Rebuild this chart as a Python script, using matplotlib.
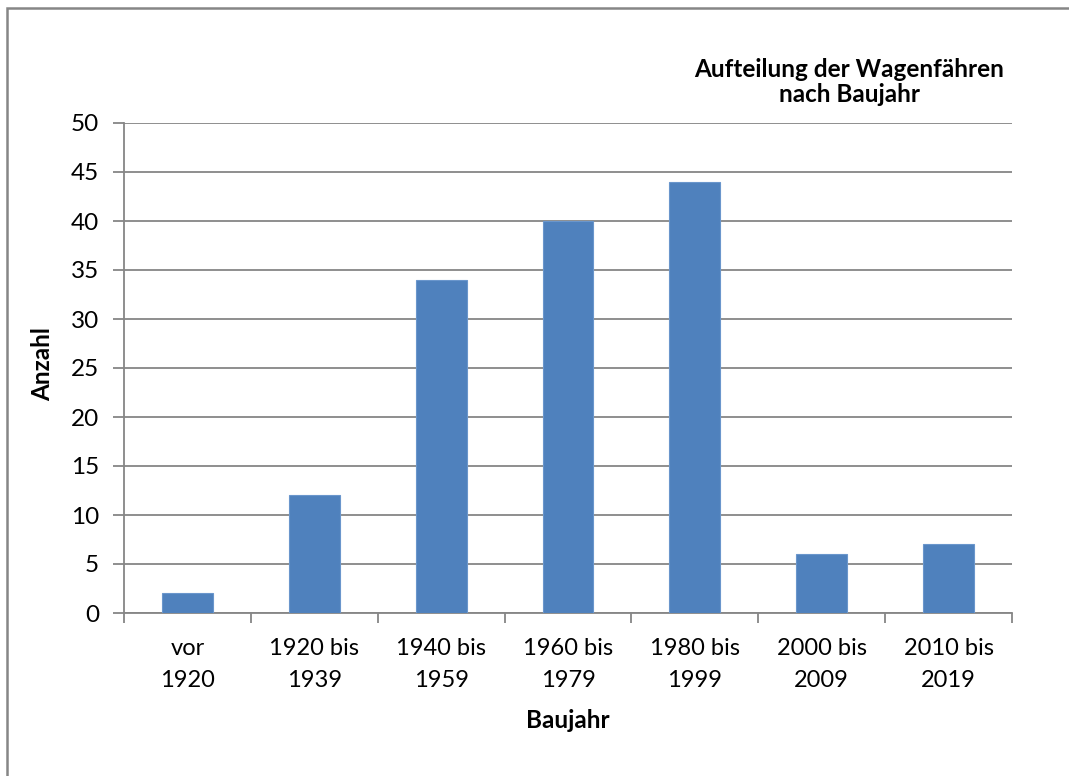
import numpy as np
import matplotlib.pyplot as plt
from matplotlib.patches import Rectangle

plt.rcParams['font.family'] = ['Lato', 'DejaVu Sans']

categories = ["vor\n1920", "1920 bis\n1939", "1940 bis\n1959", "1960 bis\n1979",
              "1980 bis\n1999", "2000 bis\n2009", "2010 bis\n2019"]
counts = [2, 12, 34, 40, 44, 6, 7]
y_ticks = [0, 5, 10, 15, 20, 25, 30, 35, 40, 45, 50]

W, H = 1069, 776
fig = plt.figure(figsize=(W / 100, H / 100), dpi=100)
ax = fig.add_axes([124 / W, 1 - 613 / H, (1012 - 124) / W, (613 - 123) / H])

grid_col = "#868686"
x = np.arange(len(categories))
ax.bar(x, counts, width=0.4, color="#4F81BD", edgecolor="#6A96CC", linewidth=0.8, zorder=3)

ax.set_xlim(-0.5, len(categories) - 0.5)
ax.set_ylim(0, 50)
ax.set_yticks(y_ticks)
ax.yaxis.grid(True, color=grid_col, linewidth=1.3)
ax.set_axisbelow(True)

# category labels sit between the boundary ticks
ax.set_xticks(np.arange(len(categories) + 1) - 0.5)
ax.set_xticklabels([])
ax.set_xticks(x, minor=True)
ax.set_xticklabels(categories, minor=True, fontsize=17, linespacing=1.65)
ax.tick_params(axis='x', which='minor', length=0, pad=18)
ax.tick_params(axis='x', which='major', length=7, width=1.3, color=grid_col)
ax.tick_params(axis='y', length=8, width=1.3, color=grid_col, labelsize=17.5, pad=10)

for side in ['top', 'right']:
    ax.spines[side].set_visible(False)
for side in ['left', 'bottom']:
    ax.spines[side].set_color(grid_col)
    ax.spines[side].set_linewidth(1.3)

fig.text(43 / W, 1 - 364 / H, "Anzahl", rotation=90, ha='center', va='center',
         fontsize=17.5, fontweight='bold')
fig.text(568 / W, 1 - 720 / H, "Baujahr", ha='center', va='center',
         fontsize=17.5, fontweight='bold')

fig.text(1004 / W, 1 - 58 / H, "Aufteilung der Wagenfähren\nnach Baujahr", ha='right', va='top',
         fontsize=17.5, fontweight='bold', multialignment='center', linespacing=1.12)

# chart frame, only its top and left edges fall inside the image
fig.patches.append(Rectangle((7 / W, -0.05), 1.1, 1 - 8 / H + 0.05,
                             transform=fig.transFigure, fill=False, edgecolor="#868686",
                             linewidth=1.8, clip_on=False))

fig.savefig("out.png", dpi=100)
